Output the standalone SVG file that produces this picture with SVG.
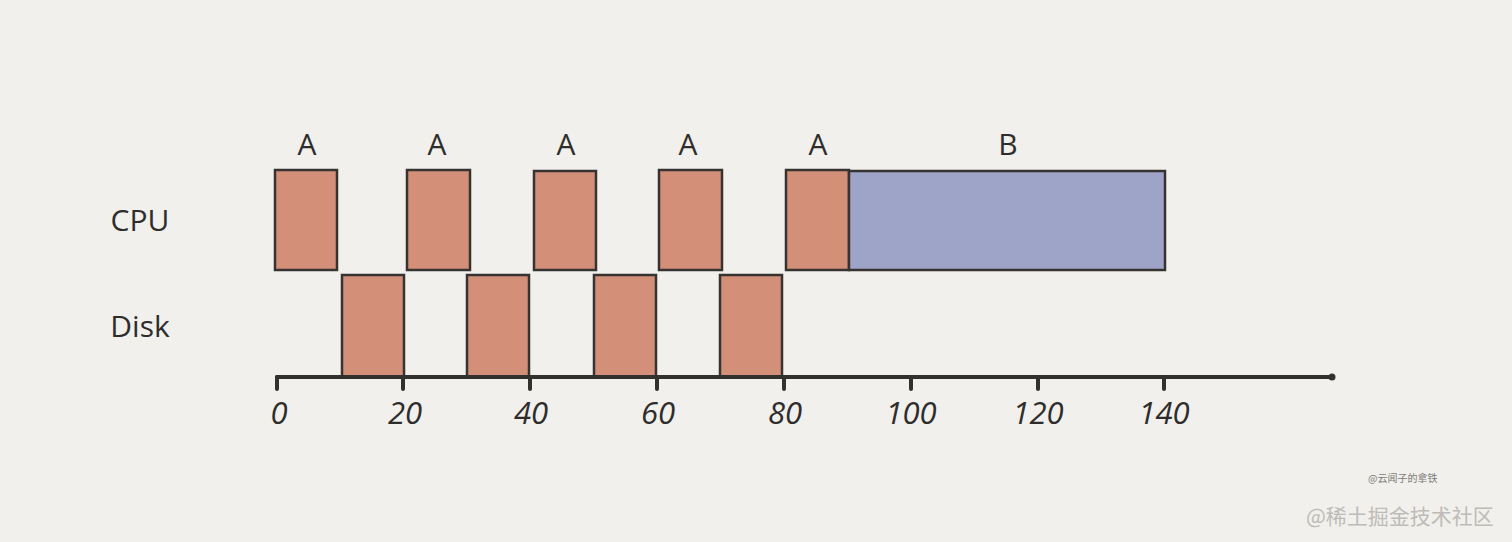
<svg xmlns="http://www.w3.org/2000/svg" width="1512" height="542" viewBox="0 0 1512 542">
<style>
.bg{fill:#f1f0ec}
.a{fill:#d38f78;stroke:#363330;stroke-width:2.5}
.b{fill:#9ea3c8;stroke:#363330;stroke-width:2.5}
.lbl{font-family:"Open Sans","Liberation Sans",sans-serif;font-size:30px;fill:#2f2d2b;text-anchor:middle}
.row{font-family:"Open Sans","Liberation Sans",sans-serif;font-size:30px;fill:#2f2d2b;text-anchor:middle}
.tick{font-family:"Open Sans","Liberation Sans",sans-serif;font-size:31px;fill:#2f2d2b;text-anchor:middle;font-style:italic}
.axis{stroke:#333130;stroke-width:4;stroke-linecap:round;fill:none}
.wm{font-family:"Noto Sans CJK SC",sans-serif}
</style>
<rect class="bg" x="0" y="0" width="1512" height="542"/>
<g id="row-labels">
<text class="row" x="140" y="231">CPU</text>
<text class="row" x="140" y="337">Disk</text>
</g>
<g id="cpu-a1"><rect class="a" x="275" y="170" width="62" height="100"/><text class="lbl" x="307" y="155">A</text></g>
<g id="cpu-a2"><rect class="a" x="407" y="170" width="63" height="100"/><text class="lbl" x="437" y="155">A</text></g>
<g id="cpu-a3"><rect class="a" x="534" y="171" width="62" height="99"/><text class="lbl" x="566" y="155">A</text></g>
<g id="cpu-a4"><rect class="a" x="659" y="170" width="63" height="100"/><text class="lbl" x="688" y="155">A</text></g>
<g id="cpu-a5"><rect class="a" x="786" y="170" width="63" height="100"/><text class="lbl" x="818" y="155">A</text></g>
<g id="cpu-b"><rect class="b" x="849" y="171" width="316" height="99"/><text class="lbl" x="1008" y="155">B</text></g>
<g id="disk-1"><rect class="a" x="342" y="275" width="62" height="102"/></g>
<g id="disk-2"><rect class="a" x="467" y="275" width="62" height="102"/></g>
<g id="disk-3"><rect class="a" x="594" y="275" width="62" height="102"/></g>
<g id="disk-4"><rect class="a" x="720" y="275" width="62" height="102"/></g>
<g id="connectors">
<path class="axis" d="M277 377 L1332 377"/>
<circle cx="1332" cy="377" r="3.5" fill="#333130"/>
<path class="axis" stroke-width="5" d="M277 377v12M403 377v12M530 377v12M657 377v12M784 377v12M911 377v12M1038 377v12M1164 377v12"/>
</g>
<g id="ticks">
<text class="tick" x="279" y="424">0</text>
<text class="tick" x="405" y="424">20</text>
<text class="tick" x="531" y="424">40</text>
<text class="tick" x="658" y="424">60</text>
<text class="tick" x="785" y="424">80</text>
<text class="tick" x="911" y="424">100</text>
<text class="tick" x="1038" y="424">120</text>
<text class="tick" x="1164" y="424">140</text>
</g>
<text class="wm" x="1368" y="482" font-size="10" fill="#7d7c79">@云闻子的拿铁</text>
<text class="wm" x="1306" y="524" font-size="21" fill="#bdbcb8">@稀土掘金技术社区</text>
</svg>
